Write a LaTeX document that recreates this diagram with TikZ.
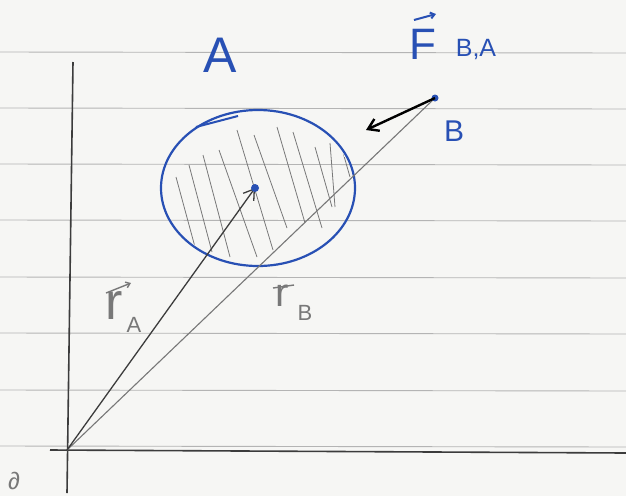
\documentclass[tikz,border=0pt]{standalone}
\usepackage{fontspec}
\setmainfont{Liberation Sans}
\usetikzlibrary{arrows.meta}
\definecolor{ink}{RGB}{40,80,180}
\definecolor{paper}{RGB}{246,246,244}
\definecolor{ruling}{RGB}{180,180,180}
\definecolor{pencil}{RGB}{60,60,60}
\definecolor{pencillight}{RGB}{120,120,120}
\begin{document}
\begin{tikzpicture}[x=1pt,y=-1pt,
  ruleline/.style={ruling, line width=0.9pt},
  axisline/.style={pencil, line width=1.6pt},
  hatchline/.style={pencillight, line width=0.8pt},
  inklabel/.style={text=ink, inner sep=0pt},
  pencillabel/.style={text=pencillight, inner sep=0pt},
  barb/.style={-{Straight Barb[length=10pt,width=13pt]}},
  smallbarb/.style={-{Straight Barb[length=4pt,width=6pt]}}]
\fill[paper] (0,0) rectangle (626,496);
\useasboundingbox (0,0) rectangle (626,496);
% ruled paper
\foreach \y in {52,108,164,220,277,333,390,446}
  \draw[ruleline] (0,\y) -- (626,\y+1);
% axes
\coordinate (O) at (67,450);
\coordinate (ytop) at (73,62);
\coordinate (ybot) at (67,493);
\coordinate (xleft) at (50,450);
\coordinate (xright) at (626,453);
\draw[axisline] (ytop) -- (ybot);
\draw[axisline] (xleft) -- (xright);
\node[pencillabel, font=\fontsize{24}{24}\selectfont] (olabel) at (14,481) {∂};
% body A
\coordinate (C) at (258,188);
\begin{scope}
  \clip (C) ellipse [x radius=95, y radius=76];
  \foreach \a/\b in {{176,177}/{195,247},{189,165}/{212,252},{203,155}/{230,257},
                     {219,150}/{257,257},{237,130}/{273,250},{254,135}/{287,228},
                     {277,127}/{305,223},{293,132}/{322,228},{315,147}/{332,207},
                     {330,143}/{335,207},{340,142}/{350,177}}
    \draw[hatchline] (\a) -- (\b);
\end{scope}
\draw[ink, line width=2.2pt] (C) ellipse [x radius=97, y radius=78];
\draw[ink, line width=2pt] (196,127) -- (238,116);
\coordinate (A) at (255,188);
\coordinate (B) at (435,98);
\coordinate (F) at (366,130);
% position vectors
\draw[pencillight, line width=1.1pt] (O) -- (B);
\draw[pencil, line width=1.3pt, barb] (O) -- (A);
\fill[ink] (A) circle (4pt);
\fill[ink] (B) circle (3.5pt);
% force
\draw[black, line width=2.4pt, barb] (B) -- (F);
% labels
\node[inklabel, font=\fontsize{50}{50}\selectfont] (Alabel) at (220,55) {A};
\node[inklabel, font=\fontsize{30}{30}\selectfont] (Blabel) at (454,131) {B};
\node[inklabel, font=\fontsize{44}{44}\selectfont] (Flabel) at (423,44) {F};
\coordinate (Farrowstart) at (414,20);
\coordinate (Farrowend) at (436,14);
\draw[ink, line width=2pt, smallbarb] (Farrowstart) -- (Farrowend);
\node[inklabel, font=\fontsize{25}{25}\selectfont] (FBA) at (476,49) {B,A};
\node[pencillabel, font=\fontsize{52}{52}\selectfont] (rA) at (114,306) {r};
\coordinate (rAarrowstart) at (106,293);
\coordinate (rAarrowend) at (131,283);
\draw[pencillight, line width=1.4pt, smallbarb] (rAarrowstart) -- (rAarrowend);
\node[pencillabel, font=\fontsize{22}{22}\selectfont] (rAsub) at (134,325) {A};
\node[pencillabel, font=\fontsize{40}{40}\selectfont] (rB) at (282,296) {r};
\coordinate (rBbarstart) at (273,288);
\coordinate (rBbarend) at (294,285);
\draw[pencillight, line width=1.4pt] (rBbarstart) -- (rBbarend);
\node[pencillabel, font=\fontsize{22}{22}\selectfont] (rBsub) at (305,313) {B};
\end{tikzpicture}
\end{document}
